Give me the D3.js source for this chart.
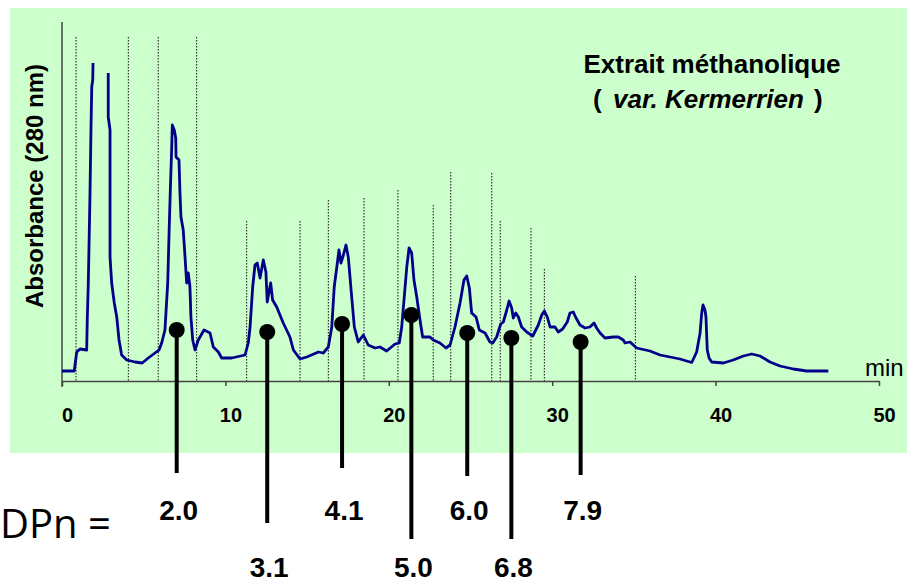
<!DOCTYPE html>
<html>
<head>
<meta charset="utf-8">
<script src="https://cdn.jsdelivr.net/npm/d3@7/dist/d3.min.js"></script>
<style>
  html, body { margin: 0; padding: 0; background: #fff; }
  svg { display: block; }
</style>
</head>
<body>
<svg id="chart" width="907" height="584"></svg>
<script>
// chromatogram trace: retention time (min) / absorbance (arbitrary units), null = gap (off scale)
const TIME = [0, 0.75, 0.9, 1.1, 1.51, 1.55, 1.61, 1.71, 1.77, 1.82, 1.88, 1.9, 2.4,
  2.83, 2.83, 2.94, 2.94, 3.04, 3.2, 3.35, 3.49, 3.65, 3.96, 4.47, 4.91, 5.28, 5.69, 5.94,
  6.1, 6.3, 6.47, 6.57, 6.63, 6.71, 6.75, 6.87, 6.96, 6.98, 7.16, 7.22, 7.28, 7.42, 7.53,
  7.63, 7.73, 7.83, 7.89, 8.0, 8.14, 8.34, 8.69, 9.06, 9.26, 9.57, 9.77, 10.39, 11.2, 11.4,
  11.51, 11.67, 11.81, 11.95, 12.12, 12.32, 12.48, 12.56, 12.77, 12.89, 13.14, 13.54, 13.95,
  14.16, 14.57, 14.98, 15.69, 15.99, 16.3, 16.51, 16.66, 16.85, 16.95, 17.07, 17.22, 17.38,
  17.52, 17.73, 17.89, 18.13, 18.44, 18.74, 19.16, 19.46, 19.87, 20.38, 20.64, 20.79, 20.93,
  21.1, 21.24, 21.4, 21.54, 21.71, 21.91, 22.07, 22.52, 22.72, 23.13, 23.5, 23.75, 24.05,
  24.36, 24.6, 24.77, 24.93, 25.07, 25.34, 25.54, 25.89, 26.19, 26.36, 26.6, 26.85, 27.01,
  27.22, 27.36, 27.52, 27.62, 27.77, 27.93, 28.13, 28.44, 28.81, 29.15, 29.36, 29.52, 29.7,
  29.87, 30.17, 30.37, 30.64, 30.92, 31.09, 31.29, 31.46, 31.7, 32.01, 32.31, 32.56, 32.72,
  32.93, 33.23, 33.74, 34.05, 34.35, 34.46, 34.76, 35.17, 35.98, 36.6, 37.21, 37.82, 38.54,
  38.84, 39.05, 39.15, 39.23, 39.35, 39.41, 39.49, 39.6, 39.76, 40.47, 41.08, 41.7, 42.21,
  42.72, 43.33, 43.94, 44.76, 45.57, 46.9];
const ABSORBANCE = [10, 10, 29, 32, 31, 64, 98, 184, 248, 294, 301, 318, null,
  308, 264, 251, 124, 98, 78, 64, 41, 26, 21, 19, 18, 23, 28, 31,
  38, 51, 98, 158, 191, 231, 256, 251, 243, 224, 221, 188, 164, 151, 124,
  98, 108, 94, 64, 41, 31, 41, 51, 48, 34, 29, 23, 23, 26, 38,
  54, 94, 116, 118, 103, 121, 109, 79, 98, 81, 74, 58, 44,
  31, 22, 24, 29, 28, 34, 54, 94, 118, 131, 118, 126, 136,
  124, 84, 54, 39, 46, 36, 33, 34, 30, 37, 38, 54, 81,
  114, 133, 128, 101, 84, 61, 44, 44, 41, 38, 33, 36, 54,
  78, 101, 105, 93, 68, 64, 51, 48, 39, 38, 44, 57, 59,
  71, 80, 73, 63, 68, 64, 54, 49, 45, 56, 66, 70, 64,
  54, 54, 49, 52, 59, 68, 69, 63, 56, 53, 54, 58, 53,
  48, 43, 44, 44, 41, 38, 39, 33, 30, 26, 24, 22, 18.5,
  29, 48, 68, 76, 71, 64, 31, 23, 19, 18, 21, 25, 27,
  25, 19, 15, 12, 10, 10];

// fraction cut marks (dotted verticals)
const FRACTION_TIME = [0.86, 4.06, 5.89, 8.24, 11.3, 14.57, 16.3, 18.48, 20.56, 22.72,
  23.79, 26.3, 26.82, 28.7, 29.52, 35.09];
const FRACTION_TOP = [344, 344, 344, 344, 160, 160, 181, 183, 191, 176,
  209, 208, 160, 153, 112, 105];

// mean degree of polymerisation markers
const DP_TIME = [7.02, 12.56, 17.14, 21.38, 24.8, 27.5, 31.74];
const DP_LEVEL = [51, 49, 57, 66, 48, 43, 39];
const DP_LABEL = ['2.0', '3.1', '4.1', '5.0', '6.0', '6.8', '7.9'];
const DP_ROW = [0, 1, 0, 1, 0, 1, 0];
const DP_STEM = [-92, -142, -87, -158, -95, -158, -94];

const X_TICKS = [0, 10, 20, 30, 40, 50];

const svg = d3.select('#chart');
const FONT = 'Liberation Sans, Arial, sans-serif';

const x = d3.scaleLinear().domain([0, 50]).range([62, 879]);
const y = d3.scaleLinear().domain([0, 360]).range([381, 21]);

// background panel
svg.append('rect')
  .attr('x', 10).attr('y', 8)
  .attr('width', 897).attr('height', 445)
  .attr('fill', '#ccffcc');

// fraction marks
svg.append('g')
  .selectAll('line')
  .data(FRACTION_TIME)
  .join('line')
  .attr('x1', d => x(d)).attr('x2', d => x(d))
  .attr('y1', (d, i) => y(FRACTION_TOP[i]))
  .attr('y2', y(0))
  .attr('stroke', '#111')
  .attr('stroke-width', 1)
  .attr('stroke-dasharray', '1.5,1.5');

// axes
const xAxis = svg.append('g')
  .attr('transform', `translate(0,${y(0)})`)
  .call(d3.axisBottom(x).tickValues(X_TICKS).tickSize(5).tickSizeOuter(0).tickPadding(22));
xAxis.select('.domain').attr('stroke', '#444').attr('stroke-width', 1.5);
xAxis.selectAll('.tick line').attr('stroke', '#444').attr('stroke-width', 1.5);
xAxis.selectAll('.tick text')
  .attr('dx', 5)
  .attr('fill', '#000')
  .style('font', `bold 20px ${FONT}`);

svg.append('line')
  .attr('x1', x(0)).attr('x2', x(0))
  .attr('y1', y(0) + 6).attr('y2', y(359))
  .attr('stroke', '#444')
  .attr('stroke-width', 1.5);

// trace
const pts = TIME.map((t, i) => ({ t, a: ABSORBANCE[i] }));
const line = d3.line()
  .defined(d => d.a != null)
  .x(d => x(d.t))
  .y(d => y(d.a));

svg.append('path')
  .datum(pts)
  .attr('d', line)
  .attr('fill', 'none')
  .attr('stroke', '#00008b')
  .attr('stroke-width', 2.8)
  .attr('stroke-linejoin', 'round');

// DPn pins
const pins = svg.append('g');
DP_TIME.forEach((t, i) => {
  pins.append('line')
    .attr('x1', x(t)).attr('x2', x(t))
    .attr('y1', y(DP_LEVEL[i])).attr('y2', y(DP_STEM[i]))
    .attr('stroke', '#000')
    .attr('stroke-width', 4);
  pins.append('circle')
    .attr('cx', x(t)).attr('cy', y(DP_LEVEL[i]))
    .attr('r', 8)
    .attr('fill', '#000');
  pins.append('text')
    .attr('x', x(t) + 2)
    .attr('y', DP_ROW[i] === 0 ? 520 : 577)
    .attr('text-anchor', 'middle')
    .style('font', `bold 28px ${FONT}`)
    .text(DP_LABEL[i]);
});

svg.append('text')
  .attr('x', 0).attr('y', 538)
  .style('font', '40px "Open Sans", "Noto Sans", sans-serif')
  .text('DPn =');

// axis labels
svg.append('text')
  .attr('transform', 'translate(43,186) rotate(-90)')
  .attr('text-anchor', 'middle')
  .style('font', `bold 24px ${FONT}`)
  .text('Absorbance (280 nm)');

svg.append('text')
  .attr('x', 865).attr('y', 376)
  .style('font', `24px ${FONT}`)
  .text('min');

// title
svg.append('text')
  .attr('x', 712).attr('y', 73)
  .attr('text-anchor', 'middle')
  .style('font', `bold 26px ${FONT}`)
  .text('Extrait méthanolique');

const sub = svg.append('text')
  .attr('y', 108)
  .style('font', `bold 26px ${FONT}`);
sub.append('tspan').attr('x', 593).text('(');
sub.append('tspan').attr('x', 613).style('font-style', 'italic').text('var. Kermerrien');
sub.append('tspan').attr('x', 814).text(')');
</script>
</body>
</html>
